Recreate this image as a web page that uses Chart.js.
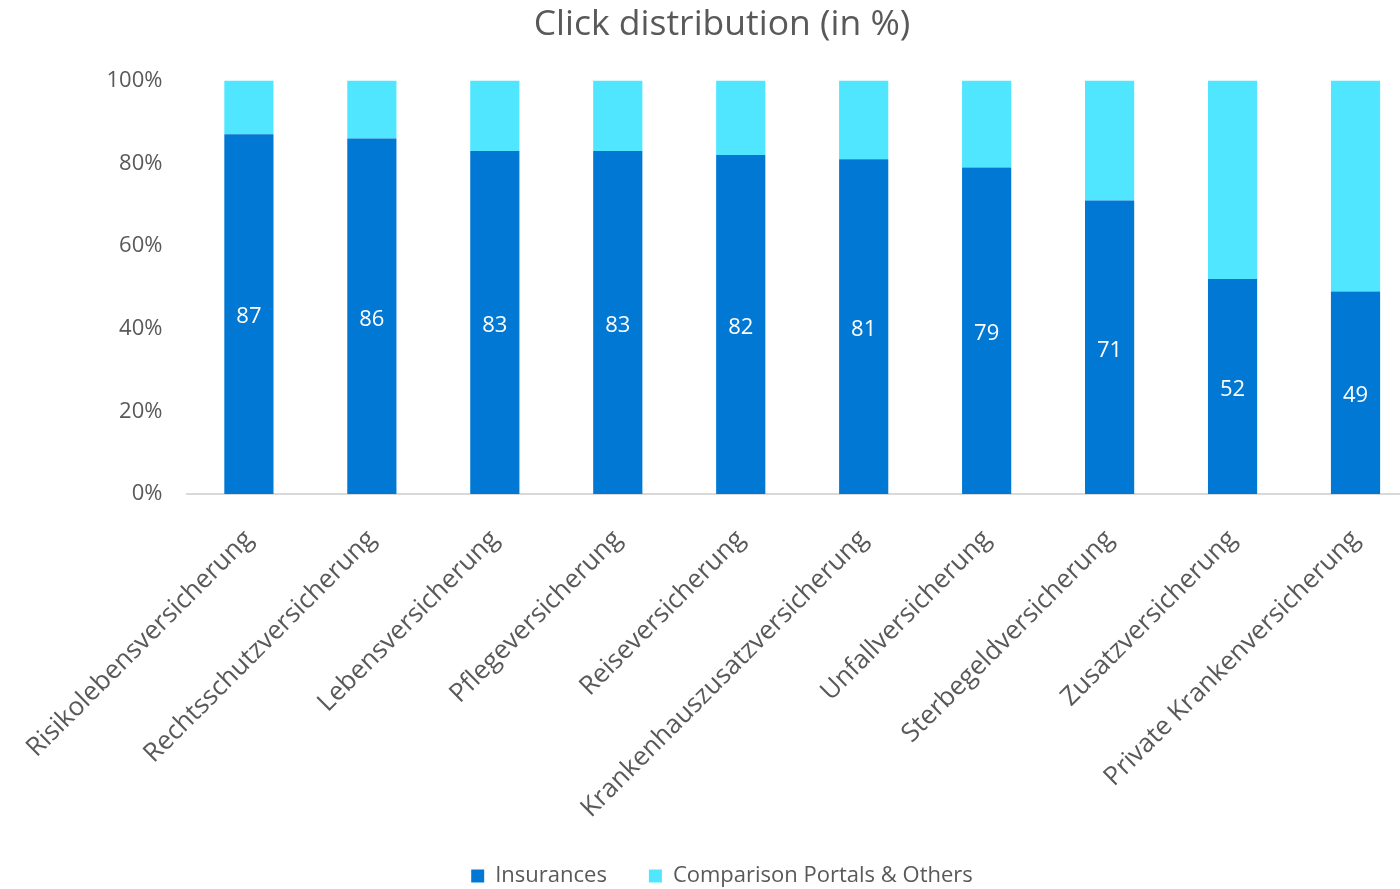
<!DOCTYPE html>
<html>
<head>
<meta charset="utf-8">
<script src="https://cdn.jsdelivr.net/npm/chart.js@4"></script>
<style>
  html, body { margin: 0; padding: 0; background: #fff; overflow: hidden; }
  #wrap { width: 1444px; height: 897px; }
</style>
</head>
<body>
<div id="wrap"><canvas id="c" width="1444" height="897"></canvas></div>
<script>
const categories = [
  "Risikolebensversicherung",
  "Rechtsschutzversicherung",
  "Lebensversicherung",
  "Pflegeversicherung",
  "Reiseversicherung",
  "Krankenhauszusatzversicherung",
  "Unfallversicherung",
  "Sterbegeldversicherung",
  "Zusatzversicherung",
  "Private Krankenversicherung"
];
const insurances = [87, 86, 83, 83, 82, 81, 79, 71, 52, 49];
const others = [13, 14, 17, 17, 18, 19, 21, 29, 48, 51];
const yTicks = [0, 20, 40, 60, 80, 100];

const FONT = "'Open Sans', 'Noto Sans', sans-serif";
const GREY = "#595959";

const valueLabels = {
  id: "valueLabels",
  afterDatasetsDraw(chart) {
    const meta = chart.getDatasetMeta(0);
    const ctx = chart.ctx;
    ctx.save();
    ctx.fillStyle = "#ffffff";
    ctx.font = "22px " + FONT;
    ctx.textAlign = "center";
    ctx.textBaseline = "middle";
    meta.data.forEach((el, i) => {
      const y = (el.y + el.base) / 2 + 3;
      ctx.fillText(String(insurances[i]), el.x, y);
    });
    ctx.restore();
  }
};

new Chart(document.getElementById("c"), {
  type: "bar",
  data: {
    labels: categories,
    datasets: [
      { label: "Insurances", data: insurances, backgroundColor: "#0078D4", barPercentage: 0.8, categoryPercentage: 0.5 },
      { label: "Comparison Portals & Others", data: others, backgroundColor: "#50E6FF", barPercentage: 0.8, categoryPercentage: 0.5 }
    ]
  },
  options: {
    responsive: false,
    animation: false,
    layout: { padding: 0 },
    plugins: {
      title: {
        display: true,
        text: "Click distribution (in %)",
        color: GREY,
        font: { family: FONT, size: 35.5, weight: "normal" },
        padding: { top: 4, bottom: 34 }
      },
      legend: {
        position: "bottom",
        labels: {
          color: GREY,
          font: { family: FONT, size: 22 },
          boxWidth: 13,
          boxHeight: 13,
          padding: 42
        }
      },
      tooltip: { enabled: false }
    },
    scales: {
      x: {
        stacked: true,
        grid: { display: false },
        border: { display: true, color: "#d9d9d9", width: 2 },
        ticks: {
          color: GREY,
          font: { family: FONT, size: 26 },
          minRotation: 45,
          maxRotation: 45,
          autoSkip: false,
          padding: 22
        },
        afterFit(scale) { scale.height = 329; }
      },
      y: {
        stacked: true,
        min: 0,
        max: 100,
        grid: { display: false },
        border: { display: false },
        afterBuildTicks(scale) { scale.ticks = yTicks.map(v => ({ value: v })); },
        ticks: {
          color: GREY,
          font: { family: FONT, size: 22 },
          padding: 17,
          callback: v => v + "%"
        },
        afterFit(scale) { scale.width = 187; }
      },
      yR: {
        position: "right",
        display: true,
        grid: { display: false },
        border: { display: false },
        ticks: { display: false },
        afterFit(scale) { scale.width = 27; }
      }
    }
  },
  plugins: [valueLabels]
});
</script>
</body>
</html>
